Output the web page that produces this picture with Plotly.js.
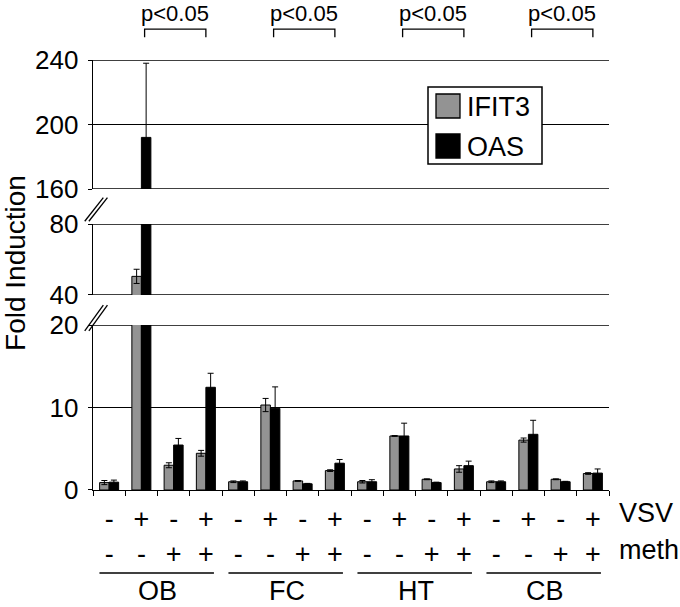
<!DOCTYPE html>
<html>
<head>
<meta charset="utf-8">
<script src="https://cdn.plot.ly/plotly-3.0.1.min.js"></script>
<style>
  html, body { margin: 0; padding: 0; background: #fff; }
  #myPlot { width: 680px; height: 607px; }
</style>
</head>
<body>
<div id="myPlot"></div>
<script>
// Data
var groups = ['OB', 'FC', 'HT', 'CB'];
var vsv  = ['-', '+', '-', '+'];
var meth = ['-', '-', '+', '+'];
var seriesNames = ['IFIT3', 'OAS'];

var ifit3    = [0.9, 50.5, 3.0, 4.45, 1.0, 10.3, 1.1, 2.35, 1.0, 6.55, 1.3, 2.55, 1.0, 6.05, 1.3, 2.0];
var ifit3Err = [0.25, 4, 0.3, 0.35, 0.1, 0.8, 0.05, 0.1, 0.15, 0.05, 0.05, 0.4, 0.1, 0.25, 0.05, 0.1];
var oas      = [0.95, 192, 5.45, 12.45, 1.0, 9.9, 0.75, 3.25, 1.0, 6.55, 0.9, 2.95, 1.0, 6.75, 1.0, 2.05];
var oasErr   = [0.25, 46, 0.8, 1.7, 0.1, 2.6, 0.05, 0.45, 0.25, 1.55, 0.05, 0.55, 0.1, 1.7, 0.05, 0.5];

var pText = 'p<0.05';
var yTitle = 'Fold Induction';
var rowLabels = ['VSV', 'meth'];

var colors = ['#939393', '#000000'];
var FONT = 'Liberation Sans, Arial, sans-serif';

// x positions and tick labels
var xs = [], ticktext = [], bounds = [-0.5];
for (var g = 0; g < groups.length; g++) {
  for (var c = 0; c < vsv.length; c++) {
    var i = g * vsv.length + c;
    xs.push(i);
    ticktext.push(vsv[c] + '<br>' + meth[c]);
    bounds.push(i + 0.5);
  }
}

// one copy of each series per broken-axis panel
var panels = ['y', 'y2', 'y3'];
var values = [ifit3, oas];
var errs = [ifit3Err, oasErr];
var data = [];
panels.forEach(function (ya) {
  for (var s = 0; s < 2; s++) {
    data.push({
      x: xs,
      y: values[s],
      type: 'bar',
      yaxis: ya,
      name: seriesNames[s],
      showlegend: false,
      marker: { color: colors[s], line: { color: '#000', width: 1 } },
      error_y: { type: 'data', array: errs[s], visible: true, color: '#000', thickness: 1, width: 3 }
    });
  }
});

var yBase = {
  showline: true, linecolor: '#000', linewidth: 1.3,
  ticks: 'outside', ticklen: 4, tickcolor: '#000',
  showgrid: true, gridcolor: '#000', gridwidth: 1.3,
  zeroline: false, anchor: 'x',
  tickfont: { size: 26, color: '#000', family: FONT },
  ticklabelstandoff: 4, fixedrange: true
};

var layout = {
  width: 680, height: 607,
  margin: { l: 93, r: 71, t: 60, b: 117 },
  paper_bgcolor: '#fff', plot_bgcolor: '#fff',
  font: { family: FONT, color: '#000' },
  barmode: 'group', bargap: 0.41, bargroupgap: 0,
  showlegend: false,
  xaxis: {
    range: [-0.5, xs.length - 0.5],
    tickmode: 'array', tickvals: xs, ticktext: ticktext,
    ticks: '', showline: true, linecolor: '#000', linewidth: 1.3,
    showgrid: false, zeroline: false,
    tickfont: { size: 27, color: '#000', family: FONT },
    ticklabelstandoff: 4,
    minor: { tickmode: 'array', tickvals: bounds, ticks: 'outside', ticklen: 5, tickcolor: '#000', showgrid: false },
    fixedrange: true
  },
  yaxis:  Object.assign({}, yBase, { domain: [0, 0.3837], range: [0, 20], dtick: 10, tick0: 0 }),
  yaxis2: Object.assign({}, yBase, { domain: [0.4535, 0.6186], range: [40, 80], dtick: 40, tick0: 0 }),
  yaxis3: Object.assign({}, yBase, { domain: [0.7, 1.0], range: [160, 240], dtick: 40, tick0: 0 }),
  shapes: [],
  annotations: []
};

// grid lines on the panel edges (plotly hides those at the range ends)
[['y3', 240], ['y3', 160], ['y2', 80], ['y2', 40], ['y', 20]].forEach(function (e) {
  layout.shapes.push({
    type: 'line', xref: 'paper', yref: e[0], x0: 0, x1: 1, y0: e[1], y1: e[1],
    line: { color: '#000', width: 1.3 }, layer: 'below'
  });
});

// y-axis title
layout.annotations.push({
  text: yTitle, xref: 'paper', yref: 'paper', x: (16 - 93) / 516, y: 0.528,
  xanchor: 'center', yanchor: 'middle', borderpad: 0,
  textangle: -90, showarrow: false, font: { size: 28, family: FONT, color: '#000' }
});

// axis break marks
[[0.625, 0.68], [0.37, 0.43]].forEach(function (b) {
  for (var k = 0; k < 2; k++) {
    layout.shapes.push({
      type: 'line', xref: 'paper', yref: 'paper',
      x0: -0.016 + k * 0.008, y0: b[0], x1: 0.02 + k * 0.008, y1: b[1],
      line: { color: '#000', width: 1.3 }
    });
  }
});

// VSV / meth row labels
rowLabels.forEach(function (t, r) {
  layout.annotations.push({
    text: t, xref: 'paper', yref: 'paper', x: 1.016, y: -0.0535 - r * 0.086,
    xanchor: 'left', yanchor: 'middle', showarrow: false,
    font: { size: 27, family: FONT, color: '#000' }
  });
});

// group underlines, labels and significance brackets
groups.forEach(function (name, g) {
  var x0 = g * 4;
  layout.shapes.push({
    type: 'line', xref: 'x', yref: 'paper', x0: x0 - 0.3, x1: x0 + 3.25, y0: -0.193, y1: -0.193,
    line: { color: '#000', width: 1.3 }
  });
  layout.annotations.push({
    text: name, xref: 'x', yref: 'paper', x: x0 + 1.5, y: (490 - 607) / 430,
    yanchor: 'bottom', showarrow: false, borderpad: 0,
    font: { size: 27, family: FONT, color: '#000' }
  });
  layout.shapes.push({
    type: 'path', xref: 'x', yref: 'paper',
    path: 'M ' + (x0 + 1.1) + ',1.053 L ' + (x0 + 1.1) + ',1.072 L ' + (x0 + 3) + ',1.072 L ' + (x0 + 3) + ',1.053',
    line: { color: '#000', width: 1.3 }
  });
  layout.annotations.push({
    text: pText, xref: 'x', yref: 'paper', x: x0 + 2.05, y: 1.107,
    yanchor: 'middle', showarrow: false, borderpad: 0,
    font: { size: 22, family: FONT, color: '#000' }
  });
});

// legend box
var lx = function (px) { return (px - 93) / 516; };
var ly = function (py) { return (490 - py) / 430; };
layout.shapes.push({
  type: 'rect', xref: 'paper', yref: 'paper', x0: lx(428), x1: lx(542), y0: ly(164), y1: ly(87),
  fillcolor: '#fff', line: { color: '#000', width: 1.5 }, layer: 'above'
});
seriesNames.forEach(function (n, s) {
  var cy = 106 + s * 40;
  layout.shapes.push({
    type: 'rect', xref: 'paper', yref: 'paper', x0: lx(436), x1: lx(460), y0: ly(cy + 12), y1: ly(cy - 12),
    fillcolor: colors[s], line: { color: '#000', width: 1.3 }, layer: 'above'
  });
  layout.annotations.push({
    text: n, xref: 'paper', yref: 'paper', x: lx(465), y: ly(cy + 1),
    xanchor: 'left', yanchor: 'middle', showarrow: false,
    font: { size: 27, family: FONT, color: '#000' }
  });
});

Plotly.newPlot('myPlot', data, layout, { displayModeBar: false, staticPlot: true });
</script>
</body>
</html>
